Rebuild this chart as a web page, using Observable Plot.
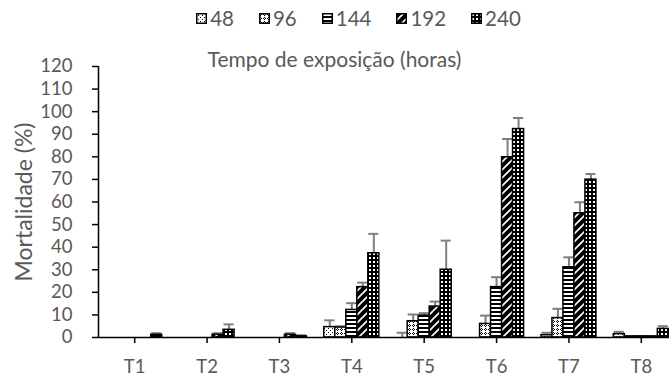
<!DOCTYPE html>
<html>
<head>
<meta charset="utf-8">
<script src="https://cdn.jsdelivr.net/npm/d3@7"></script>
<script src="https://cdn.jsdelivr.net/npm/@observablehq/plot@0.6"></script>
<style>
  html, body { margin: 0; padding: 0; background: #ffffff; }
  #wrap { position: relative; width: 669px; height: 378px; font-family: Lato, "Open Sans", sans-serif; color: #595959; overflow: hidden; }
  #defs { position: absolute; width: 0; height: 0; }
  #legend { position: absolute; top: 6px; left: 0; width: 669px; display: flex; justify-content: center; align-items: center; gap: 25px; font-size: 20.5px; line-height: 24px; padding-left: 48px; box-sizing: border-box; }
  #legend .item { display: flex; align-items: center; gap: 3px; }
  #title { position: absolute; top: 46px; left: 0; width: 669px; text-align: center; font-size: 21px; line-height: 26px; }
  #chart { position: absolute; left: 0; top: 0; }
</style>
</head>
<body>
<div id="wrap">
  <svg id="defs" aria-hidden="true">
    <defs>
      <pattern id="p48" patternUnits="userSpaceOnUse" width="4" height="4">
        <rect width="4" height="4" fill="#fff"/>
        <rect x="0" y="0" width="1" height="1" fill="#000"/>
        <rect x="2" y="2" width="1" height="1" fill="#000"/>
      </pattern>
      <pattern id="p96" patternUnits="userSpaceOnUse" width="4" height="4">
        <rect width="4" height="4" fill="#fff"/>
        <rect x="1" y="0" width="1" height="1" fill="#000"/>
        <rect x="0" y="1" width="1" height="1" fill="#000"/>
        <rect x="2" y="1" width="1" height="1" fill="#000"/>
        <rect x="1" y="2" width="1" height="1" fill="#000"/>
      </pattern>
      <pattern id="p144" patternUnits="userSpaceOnUse" width="4" height="4">
        <rect width="4" height="4" fill="#000"/>
        <rect x="0" y="1" width="4" height="2" fill="#fff"/>
      </pattern>
      <pattern id="p192" patternUnits="userSpaceOnUse" width="8" height="8">
        <rect width="8" height="8" fill="#000"/>
        <path d="M-1,9 L9,-1 M-1,1 L1,-1 M7,9 L9,7" stroke="#fff" stroke-width="1.6"/>
      </pattern>
      <pattern id="p240" patternUnits="userSpaceOnUse" width="4" height="4">
        <rect width="4" height="4" fill="#000"/>
        <rect x="1" y="1" width="2" height="2" fill="#fff"/>
      </pattern>
    </defs>
  </svg>
  <div id="chart"></div>
  <div id="legend"></div>
  <div id="title">Tempo de exposição (horas)</div>
</div>
<script>
// ---- data ----
const categories = ["T1", "T2", "T3", "T4", "T5", "T6", "T7", "T8"];
const seriesNames = ["48", "96", "144", "192", "240"];
const yLabel = "Mortalidade (%)";

const mort48  = [0,   0,   0,   4.6,  0,    0,    1.0,  1.5];
const mort96  = [0,   0,   0,   4.4,  7.2,  6.0,  8.6,  0.5];
const mort144 = [0,   0,   0,   12.2, 9.7,  22.3, 31.1, 0.5];
const mort192 = [0,   1.2, 1.2, 22.3, 13.7, 79.8, 55.0, 0.5];
const mort240 = [1.2, 3.4, 0.5, 37.3, 30.0, 92.3, 69.9, 3.8];

const err48  = [0,   0,   0,   3.0, 2.1,  0,   1.1, 1.0];
const err96  = [0,   0,   0,   0.6, 3.0,  3.7, 4.1, 0];
const err144 = [0,   0,   0,   3.0, 1.1,  4.4, 4.4, 0];
const err192 = [0,   0.7, 0.7, 2.0, 2.2,  8.1, 4.9, 0];
const err240 = [0.7, 2.4, 0.5, 8.6, 12.9, 4.9, 2.5, 1.2];

const yTicks = [0, 10, 20, 30, 40, 50, 60, 70, 80, 90, 100, 110, 120];

// ---- build table ----
const valueArrays = [mort48, mort96, mort144, mort192, mort240];
const errArrays = [err48, err96, err144, err192, err240];
const rows = [];
seriesNames.forEach((s, j) => {
  categories.forEach((c, i) => {
    rows.push({cat: c, idx: i + 1, series: s, j, value: valueArrays[j][i], err: errArrays[j][i]});
  });
});

const barW = 0.152;   // bar width as a fraction of the category step
const capHalf = 0.07;
const center = d => d.idx + (d.j - 2) * barW;

const marks = [];
// error bars
seriesNames.forEach((s, j) => {
  const data = rows.filter(d => d.j === j && d.err > 0);
  marks.push(Plot.ruleX(data, {x: center, y1: "value", y2: d => d.value + d.err, stroke: "#7f7f7f", strokeWidth: 2}));
  marks.push(Plot.ruleY(data, {y: d => d.value + d.err, x1: d => center(d) - capHalf, x2: d => center(d) + capHalf, stroke: "#7f7f7f", strokeWidth: 2}));
});
// bars
seriesNames.forEach((s, j) => {
  const data = rows.filter(d => d.j === j && d.value > 0);
  marks.push(Plot.rectY(data, {
    x1: d => center(d) - barW / 2,
    x2: d => center(d) + barW / 2,
    y1: 0, y2: "value",
    fill: `url(#p${s})`, stroke: "#000", strokeWidth: 1.5
  }));
});

const chart = Plot.plot({
  width: 669,
  height: 378,
  marginTop: 66,
  marginBottom: 41,
  marginLeft: 98,
  marginRight: 0,
  style: {fontFamily: "Lato, 'Open Sans', sans-serif", fontSize: "18.5px", background: "transparent", overflow: "visible"},
  x: {domain: [0.5, 8.5], range: [98, 677]},
  y: {domain: [0, 120]},
  marks: [
    ...marks,
    Plot.ruleY([0], {stroke: "#000", strokeWidth: 1.5}),
    Plot.ruleX([0.5], {stroke: "#000", strokeWidth: 1.5}),
    Plot.axisY({ticks: yTicks, tickSize: 6, tickFormat: () => "", color: "#000", strokeWidth: 1.5, label: null}),
    Plot.axisY({ticks: yTicks, tickSize: 0, tickPadding: 26, color: "#595959", fontSize: 18.5, label: null}),
    Plot.axisX({ticks: d3.range(1, 9), tickSize: 6, tickFormat: () => "", color: "#000", strokeWidth: 1.5, label: null}),
    Plot.axisX({ticks: d3.range(1, 9), tickSize: 0, tickPadding: 22, tickFormat: i => categories[i - 1], color: "#595959", fontSize: 18.5, label: null}),
    Plot.text([yLabel], {text: d => d, frameAnchor: "left", textAnchor: "middle", dx: -74, rotate: -90, fill: "#595959", fontSize: 23})
  ]
});
document.getElementById("chart").appendChild(chart);

// legend
const legend = document.getElementById("legend");
seriesNames.forEach(s => {
  const item = document.createElement("div");
  item.className = "item";
  item.innerHTML = `<svg width="11" height="11"><rect x="0.75" y="0.75" width="9.5" height="9.5" fill="url(#p${s})" stroke="#000" stroke-width="1.5"/></svg><span>${s}</span>`;
  legend.appendChild(item);
});
</script>
</body>
</html>
